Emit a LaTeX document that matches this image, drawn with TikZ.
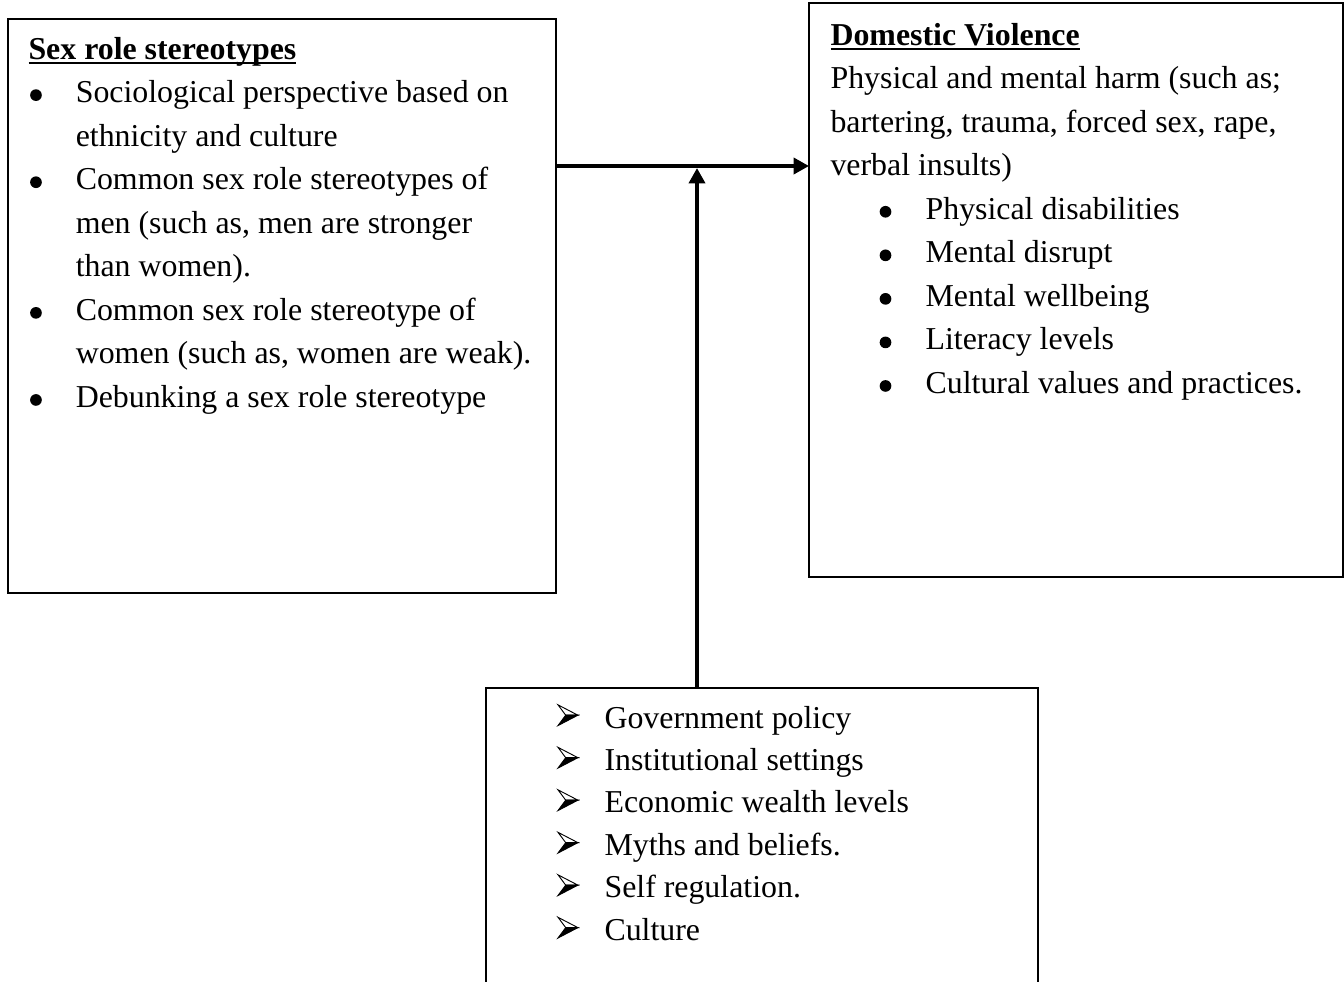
\documentclass[tikz,border=0pt]{standalone}
\usepackage{fontspec}
\setmainfont{Liberation Serif}
\usetikzlibrary{arrows.meta}

\newsavebox\dotbox
\newsavebox\headbox
\newcommand{\titleul}[1]{\setbox0\hbox{\bfseries #1}\rlap{\rule[-1.9pt]{\wd0}{0.9pt}}\box0}
\newcommand{\bulL}{\makebox[17.8pt][l]{\hspace*{0.6pt}\usebox\dotbox}}
\newcommand{\bulR}{\makebox[35.8pt][l]{\hspace*{18.5pt}\usebox\dotbox}}
\newcommand{\arrB}{\makebox[17.7pt][l]{\usebox\headbox}}

\begin{document}
\sbox\dotbox{\raisebox{0.6pt}{\begin{pgfpicture}
  \pgfpathcircle{\pgfpoint{2.2pt}{2.2pt}}{2.2pt}\pgfusepath{fill}
\end{pgfpicture}}}
\sbox\headbox{\raisebox{0.75pt}{\begin{pgfpicture}
  \pgfsetlinewidth{0.35pt}\pgfsetmiterjoin
  \pgfpathmoveto{\pgfpoint{0pt}{0pt}}\pgfpathlineto{\pgfpoint{7.5pt}{3.9pt}}%
  \pgfpathlineto{\pgfpoint{2.9pt}{3.9pt}}\pgfpathclose\pgfusepath{fill,stroke}
  \pgfpathmoveto{\pgfpoint{0pt}{7.8pt}}\pgfpathlineto{\pgfpoint{7.5pt}{3.9pt}}%
  \pgfpathlineto{\pgfpoint{2.9pt}{3.9pt}}\pgfpathclose\pgfusepath{stroke}
\end{pgfpicture}}}
\begin{tikzpicture}[x=0.3766pt, y=-0.3766pt]
\tikzstyle{boxr}=[rectangle, draw=black, line width=0.5pt, inner sep=0pt, outer sep=0pt]
\tikzstyle{textr}=[anchor=base west, inner sep=0pt]
\tikzstyle{drawstyle}=[line width=1.5pt, -{Triangle[length=5.8pt,width=6pt]}]

\useasboundingbox (0,0) rectangle (1344,981);

% boxes
\node[boxr, minimum width=206.4pt, minimum height=216.2pt] (Bsex) at (282,306) {};
\node[boxr, minimum width=201.1pt, minimum height=216.2pt] (Bdv) at (1076,290) {};
\node[boxr, minimum width=207.9pt, minimum height=117.5pt] (Bfac) at (762,844) {};

% texts
\node[textr] (Tsex) at (28,59) {\fontsize{12}{16.4}\selectfont
\begin{tabular}[t]{@{}l@{}l@{}}
\multicolumn{2}{@{}l@{}}{\titleul{Sex role stereotypes}}\\
\bulL & Sociological perspective based on\\
 & ethnicity and culture\\
\bulL & Common sex role stereotypes of\\
 & men (such as, men are stronger\\
 & than women).\\
\bulL & Common sex role stereotype of\\
 & women (such as, women are weak).\\
\bulL & Debunking a sex role stereotype\\
\end{tabular}};
\node[textr] (Tdv) at (830,45) {\fontsize{12}{16.4}\selectfont
\begin{tabular}[t]{@{}l@{}l@{}}
\multicolumn{2}{@{}l@{}}{\titleul{Domestic Violence}}\\
\multicolumn{2}{@{}l@{}}{Physical and mental harm (such as;}\\
\multicolumn{2}{@{}l@{}}{bartering, trauma, forced sex, rape,}\\
\multicolumn{2}{@{}l@{}}{verbal insults)}\\
\bulR & Physical disabilities\\
\bulR & Mental disrupt\\
\bulR & Mental wellbeing\\
\bulR & Literacy levels\\
\bulR & Cultural values and practices.\\
\end{tabular}};
\node[textr] (Tfac) at (557,728) {\fontsize{12}{16}\selectfont
\begin{tabular}[t]{@{}l@{}l@{}}
\arrB & Government policy\\
\arrB & Institutional settings\\
\arrB & Economic wealth levels\\
\arrB & Myths and beliefs.\\
\arrB & Self regulation.\\
\arrB & Culture\\
\end{tabular}};

% arrows
\coordinate (hub) at (697,166);
\draw[drawstyle] (Bsex.east |- hub) -- (Bdv.west |- hub);
\draw[drawstyle, shorten >=0.75pt] (Bfac.north -| hub) -- (hub);
\end{tikzpicture}
\end{document}
